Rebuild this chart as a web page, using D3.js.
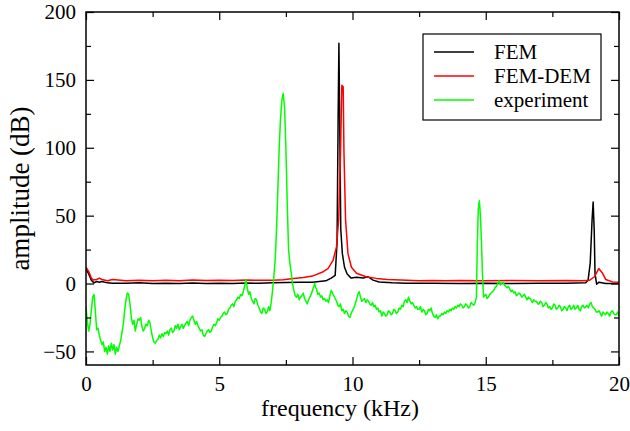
<!DOCTYPE html>
<html><head><meta charset="utf-8">
<script src="https://cdn.jsdelivr.net/npm/d3@7"></script>
<style>body{margin:0;background:#fff}svg{display:block}text{font-family:"Liberation Serif","Times New Roman","DejaVu Serif",serif}</style>
</head><body><div id="chart"></div>
<script>
const seriesNames = ["FEM", "FEM-DEM", "experiment"];
const seriesColors = ["#000000", "#ff0000", "#00ff00"];
const xTicks = [0, 5, 10, 15, 20];
const xMinorTicks = [2.5, 7.5, 12.5, 17.5];
const yTicks = [-50, 0, 50, 100, 150, 200];
const yMinorTicks = [-25, 25, 75, 125, 175];

// [frequency kHz, amplitude dB]
const femData = [[0,11],[0.1,7],[0.2,2.5],[0.3,0.5],[0.4,1.5],[0.5,1],[0.6,1.5],[0.8,0.5],[1.0,0.3],[1.5,0.2],[2,0.5],[2.5,0],[3,0.3],[3.5,0],[4,0.4],[4.5,0],[5,0.3],[5.5,0],[6,0.4],[6.5,0.2],[7,0.5],[7.5,0.8],[8,1],[8.5,1],[9.0,2],[9.2,4],[9.35,6],[9.42,30],[9.46,120],[9.49,177],[9.52,120],[9.56,40],[9.62,22],[9.7,12],[9.8,7],[9.95,4],[10.15,4.6],[10.4,4],[10.58,5],[10.77,2.5],[11,1.2],[11.5,0.5],[12,0.2],[13,0.3],[14,0],[15,0.3],[16,0],[17,0.3],[18,0.2],[18.75,0.5],[18.84,2.5],[18.92,15],[18.99,47],[19.03,60],[19.07,39],[19.1,7.5],[19.16,-0.5],[19.25,1],[19.5,0],[20,0]];

const femDemData = [[0,12],[0.1,9],[0.2,4],[0.27,2.6],[0.4,3],[0.5,4],[0.6,3],[0.8,2],[1.0,3],[1.5,2],[2,2.5],[2.5,2],[3,2.4],[3.5,2],[4,2.6],[4.5,2.2],[5,2.5],[5.5,2.2],[6,2.6],[6.5,2.4],[7,2.5],[7.4,2.8],[7.7,3.5],[8.15,4.5],[8.5,5.5],[8.9,8.7],[9.08,11],[9.27,17],[9.4,27],[9.48,47],[9.55,96],[9.6,146],[9.65,145],[9.68,96],[9.74,47],[9.83,22],[9.96,12],[10.15,7.6],[10.5,5],[10.9,3.8],[11.3,3],[11.8,2.6],[12.5,2],[13,2.3],[13.5,2],[14,2.2],[15,2],[16,2.2],[17,2],[18,2.2],[18.6,2],[18.9,2.5],[19.08,5],[19.24,11],[19.37,8],[19.5,3],[19.76,1.2],[20,1]];

const expData = [[0,-17],[0.05,-28],[0.1,-35],[0.15,-30],[0.2,-20],[0.25,-10],[0.3,-8],[0.35,-20],[0.4,-34],[0.45,-33],[0.5,-38],[0.55,-42],[0.6,-45],[0.65,-43],[0.7,-50],[0.75,-47],[0.8,-52],[0.85,-46],[0.9,-50],[0.95,-44],[1.0,-49],[1.05,-45],[1.1,-52],[1.15,-47],[1.2,-50],[1.25,-46],[1.3,-42],[1.35,-36],[1.4,-30],[1.45,-20],[1.5,-12],[1.55,-7],[1.6,-8],[1.65,-15],[1.7,-25],[1.75,-30],[1.8,-27],[1.85,-35],[1.9,-30],[1.95,-26],[2.0,-27],[2.05,-25],[2.1,-32],[2.15,-35],[2.2,-33],[2.25,-30],[2.3,-31],[2.35,-27],[2.4,-29],[2.45,-35],[2.5,-40],[2.55,-43],[2.6,-44],[2.65,-42],[2.7,-41],[2.75,-38],[2.8,-40],[2.85,-37],[2.9,-39],[2.95,-36],
[3.0,-37],[3.05,-35],[3.1,-38],[3.15,-34],[3.2,-33],[3.25,-36],[3.3,-35],[3.35,-31],[3.4,-33],[3.45,-30],[3.5,-34],[3.55,-32],[3.6,-30],[3.65,-33],[3.7,-31],[3.75,-29],[3.8,-28],[3.85,-31],[3.9,-27],[3.95,-25],[4.0,-24],[4.05,-27],[4.1,-30],[4.15,-28],[4.2,-31],[4.25,-33],[4.3,-35],[4.35,-34],[4.4,-38],[4.45,-39],[4.5,-37],[4.55,-35],[4.6,-34],[4.65,-36],[4.7,-35],[4.75,-32],[4.8,-30],[4.85,-31],[4.9,-29],[4.95,-26],[5.0,-27],[5.05,-25],[5.1,-24],[5.15,-22],[5.2,-21],[5.25,-23],[5.3,-22],[5.35,-19],[5.4,-18],[5.45,-16],[5.5,-15],[5.55,-17],[5.6,-13],[5.65,-12],[5.7,-10],[5.75,-11],[5.8,-8],[5.85,-9],[5.9,-6],[5.95,-2],[6.0,3],[6.05,-3],[6.1,-8],[6.15,-6],[6.2,-11],[6.25,-13],[6.3,-15],[6.35,-11],[6.4,-12],[6.45,-16],[6.5,-18],[6.55,-21],[6.6,-22],[6.65,-18],[6.7,-19],[6.75,-22],[6.8,-21],[6.85,-17],[6.9,-20],[6.95,-14],
[7.0,-5],[7.05,5],[7.1,18],[7.15,40],[7.2,70],[7.25,100],[7.3,122],[7.35,135],[7.4,140],[7.45,130],[7.5,100],[7.55,60],[7.6,25],[7.65,15],[7.7,8],[7.75,0],
[7.8,-5],[7.85,-9],[7.9,-10],[7.95,-8],[8.0,-12],[8.05,-10],[8.1,-9],[8.15,-7],[8.2,-11],[8.25,-13],[8.3,-15],[8.35,-12],[8.4,-10],[8.45,-8],[8.5,-5],[8.55,-2],[8.58,0],[8.62,-3],[8.65,-4],[8.7,-8],[8.75,-7],[8.8,-10],[8.85,-9],[8.9,-12],[8.95,-11],[9.0,-13],[9.05,-12],[9.1,-14],[9.15,-9],[9.2,-5],[9.25,-7],[9.3,-9],[9.35,-11],[9.4,-13],[9.45,-16],[9.5,-17],[9.55,-15],[9.6,-20],[9.65,-19],[9.7,-22],[9.75,-20],[9.8,-21],[9.85,-24],[9.9,-25],[9.95,-22],[10.0,-20],[10.05,-18],[10.1,-15],[10.15,-12],[10.2,-8],[10.25,-6],
[10.3,-10],[10.35,-13],[10.4,-12],[10.45,-11],[10.5,-14],[10.55,-12],[10.6,-13],[10.65,-15],[10.7,-16],[10.75,-14],[10.8,-17],[10.85,-16],[10.9,-19],[10.95,-18],[11.0,-21],[11.05,-20],[11.1,-24],[11.15,-21],[11.2,-22],[11.25,-24],[11.3,-23],[11.35,-20],[11.4,-21],[11.45,-23],[11.5,-22],[11.55,-19],[11.6,-20],[11.65,-22],[11.7,-21],[11.75,-18],[11.8,-19],[11.85,-16],[11.9,-17],[11.95,-13],[12.0,-12],[12.05,-14],[12.1,-10],[12.15,-13],[12.2,-15],[12.25,-14],[12.3,-16],[12.35,-18],[12.4,-17],[12.45,-19],[12.5,-19],[12.55,-17],[12.6,-21],[12.65,-19],[12.7,-20],[12.75,-23],[12.8,-22],[12.85,-19],[12.9,-20],[12.95,-18],[13.0,-22],[13.05,-24],[13.1,-25],[13.15,-23],[13.2,-26],[13.25,-24],[13.3,-24],[13.35,-22],[13.4,-23],[13.45,-21],[13.5,-22],[13.55,-20],[13.6,-21],[13.65,-19],[13.7,-20],[13.75,-18],[13.8,-19],[13.85,-17],[13.9,-18],[13.95,-16],[14.0,-17],[14.05,-15],[14.1,-16],[14.15,-18],[14.2,-17],[14.25,-15],[14.3,-16],[14.35,-18],[14.4,-17],[14.45,-14],[14.5,-15],[14.55,-16],[14.6,-14],
[14.65,-10],[14.68,25],[14.72,55],[14.76,61],[14.8,50],[14.84,30],[14.88,5],[14.92,-10],
[15.0,-8],[15.05,-11],[15.1,-10],[15.15,-8],[15.2,-7],[15.25,-6],[15.3,-5],[15.35,-3],[15.4,-2],[15.45,0],[15.5,2],[15.55,-1],[15.6,0],[15.65,1],[15.7,-1],[15.75,-2],[15.8,-3],[15.85,-2],[15.9,-4],[15.95,-6],[16.0,-5],[16.05,-7],[16.1,-6],[16.15,-9],[16.2,-8],[16.25,-7],[16.3,-8],[16.35,-10],[16.4,-9],[16.45,-8],[16.5,-10],[16.55,-12],[16.6,-10],[16.65,-11],[16.7,-12],[16.75,-14],[16.8,-12],[16.85,-13],[16.9,-13],[16.95,-15],[17.0,-15],[17.05,-13],[17.1,-14],[17.15,-17],[17.2,-16],[17.25,-14],[17.3,-15],[17.35,-18],[17.4,-17],[17.45,-19],[17.5,-18],[17.55,-15],[17.6,-16],[17.65,-19],[17.7,-18],[17.75,-16],[17.8,-17],[17.85,-20],[17.9,-19],[17.95,-17],[18.0,-18],[18.05,-20],[18.1,-17],[18.15,-16],[18.2,-19],[18.25,-18],[18.3,-16],[18.35,-19],[18.4,-18],[18.45,-16],[18.5,-19],[18.55,-20],[18.6,-17],[18.65,-16],[18.7,-18],[18.75,-17],[18.8,-16],[18.85,-18],[18.9,-15],[18.95,-14],[19.0,-17],[19.05,-18],[19.1,-19],[19.15,-21],[19.2,-21],[19.25,-20],[19.3,-22],[19.35,-24],[19.4,-21],[19.45,-22],[19.5,-23],[19.55,-21],[19.6,-22],[19.65,-24],[19.7,-21],[19.75,-20],[19.8,-22],[19.85,-23],[19.9,-23],[19.95,-21],[20.0,-24]];

const W = 630, H = 431;
const m = {left: 86, right: 11, top: 12, bottom: 66};
const svg = d3.select("#chart").append("svg").attr("width", W).attr("height", H);
const x = d3.scaleLinear().domain([0, 20]).range([m.left, W - m.right]);
const y = d3.scaleLinear().domain([-60, 200]).range([H - m.bottom, m.top]);
const font = '"Liberation Serif","Times New Roman","DejaVu Serif",serif';

const plotW = W - m.left - m.right, plotH = H - m.top - m.bottom;
svg.append("defs").append("clipPath").attr("id", "clip")
  .append("rect").attr("x", m.left).attr("y", m.top).attr("width", plotW).attr("height", plotH);

const line = d3.line().x(d => x(d[0])).y(d => y(d[1]));
const g = svg.append("g").attr("clip-path", "url(#clip)");
[femData, femDemData, expData].forEach((data, i) => {
  g.append("path").datum(data).attr("d", line)
    .attr("fill", "none").attr("stroke", seriesColors[i]).attr("stroke-width", 1.5)
    .attr("stroke-linejoin", "round");
});

function styleAxis(sel, withText) {
  sel.attr("font-family", null).attr("font-size", null);
  sel.select(".domain").remove();
  sel.selectAll(".tick line").attr("stroke", "#000").attr("stroke-width", 1.2);
  if (withText) sel.selectAll(".tick text").style("font-family", font).style("font-size", "21px").attr("fill", "#000");
  else sel.selectAll(".tick text").remove();
}
const bottomY = H - m.bottom, rightX = W - m.right;
styleAxis(svg.append("g").attr("transform", `translate(0,${bottomY})`)
  .call(d3.axisBottom(x).tickValues(xTicks).tickSizeInner(-8).tickSizeOuter(0).tickPadding(11).tickFormat(d3.format("d"))), true);
styleAxis(svg.append("g").attr("transform", `translate(0,${bottomY})`)
  .call(d3.axisBottom(x).tickValues(xMinorTicks).tickSizeInner(-5).tickSizeOuter(0)), false);
styleAxis(svg.append("g").attr("transform", `translate(0,${m.top})`)
  .call(d3.axisTop(x).tickValues(xTicks).tickSizeInner(-8).tickSizeOuter(0)), false);
styleAxis(svg.append("g").attr("transform", `translate(0,${m.top})`)
  .call(d3.axisTop(x).tickValues(xMinorTicks).tickSizeInner(-5).tickSizeOuter(0)), false);
styleAxis(svg.append("g").attr("transform", `translate(${m.left},0)`)
  .call(d3.axisLeft(y).tickValues(yTicks).tickSizeInner(-8).tickSizeOuter(0).tickPadding(10).tickFormat(d3.format("d"))), true);
styleAxis(svg.append("g").attr("transform", `translate(${m.left},0)`)
  .call(d3.axisLeft(y).tickValues(yMinorTicks).tickSizeInner(-5).tickSizeOuter(0)), false);
styleAxis(svg.append("g").attr("transform", `translate(${rightX},0)`)
  .call(d3.axisRight(y).tickValues(yTicks).tickSizeInner(-8).tickSizeOuter(0)), false);
styleAxis(svg.append("g").attr("transform", `translate(${rightX},0)`)
  .call(d3.axisRight(y).tickValues(yMinorTicks).tickSizeInner(-5).tickSizeOuter(0)), false);

svg.append("rect").attr("x", m.left).attr("y", m.top).attr("width", plotW).attr("height", plotH)
  .attr("fill", "none").attr("stroke", "#000").attr("stroke-width", 1.5);

svg.append("text").attr("x", 340).attr("y", 416)
  .attr("text-anchor", "middle").style("font-family", font).style("font-size", "24px").text("frequency (kHz)");
svg.append("text").attr("transform", `translate(29,${(m.top + bottomY) / 2}) rotate(-90)`)
  .attr("text-anchor", "middle").style("font-family", font).style("font-size", "27px").text("amplitude (dB)");

// legend
const lg = svg.append("g");
lg.append("rect").attr("x", 423).attr("y", 34).attr("width", 178).attr("height", 86)
  .attr("fill", "#fff").attr("stroke", "#000").attr("stroke-width", 1.2);
seriesNames.forEach((name, i) => {
  const yy = 52 + i * 24;
  lg.append("line").attr("x1", 434).attr("x2", 474).attr("y1", yy).attr("y2", yy)
    .attr("stroke", seriesColors[i]).attr("stroke-width", 1.5);
  lg.append("text").attr("x", 494).attr("y", yy + 7).style("font-family", font).style("font-size", "21px").text(name);
});
</script>
</body></html>
